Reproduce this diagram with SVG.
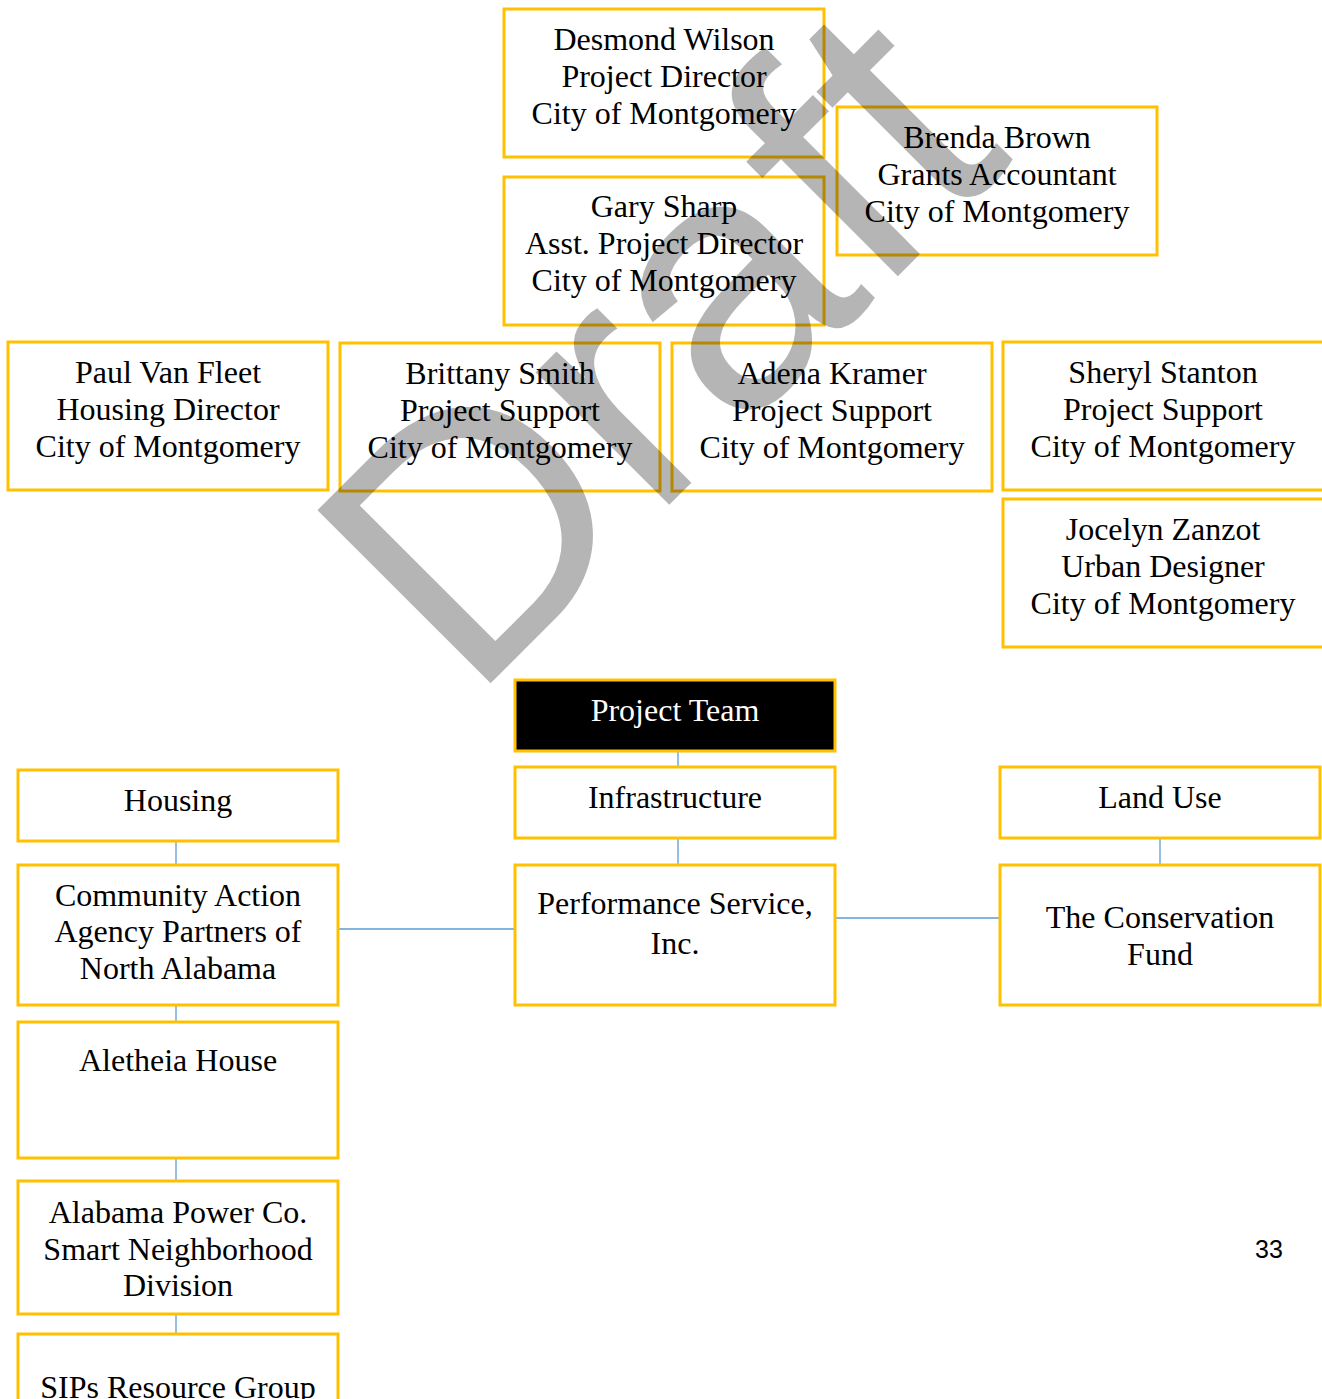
<svg xmlns="http://www.w3.org/2000/svg" width="1322" height="1399" viewBox="0 0 1322 1399">
<style>
.box{fill:#fff;stroke:#FFC000;stroke-width:3}
.dark{fill:#000;stroke:#FFC000;stroke-width:3}
.t{font-family:"Liberation Serif","Times New Roman",serif;font-size:32px;fill:#000;text-anchor:middle}
.w{fill:#fff}
.c{stroke:#5B9BD5;stroke-width:1.3;fill:none}
.wm{font-family:"Liberation Sans",Arial,sans-serif;font-size:356px;fill:#000;fill-opacity:0.29}
.pg{font-family:"Liberation Sans",Arial,sans-serif;font-size:25px;fill:#000}
</style>
<rect width="1322" height="1399" fill="#fff"/>
<g id="connectors">
<line class="c" x1="678" y1="751" x2="678" y2="767"/>
<line class="c" x1="678" y1="838" x2="678" y2="865"/>
<line class="c" x1="176" y1="841" x2="176" y2="865"/>
<line class="c" x1="176" y1="1005" x2="176" y2="1022"/>
<line class="c" x1="176" y1="1158" x2="176" y2="1181"/>
<line class="c" x1="176" y1="1314" x2="176" y2="1334"/>
<line class="c" x1="1160" y1="838" x2="1160" y2="865"/>
<line class="c" x1="338" y1="929" x2="515" y2="929"/>
<line class="c" x1="835" y1="918" x2="1000" y2="918"/>
</g>
<g id="desmond"><rect class="box" x="504" y="9" width="320" height="148"/>
<text class="t"><tspan x="664" y="50">Desmond Wilson</tspan><tspan x="664" y="87">Project Director</tspan><tspan x="664" y="124">City of Montgomery</tspan></text></g>
<g id="brenda"><rect class="box" x="837" y="107" width="320" height="148"/>
<text class="t"><tspan x="997" y="148">Brenda Brown</tspan><tspan x="997" y="185">Grants Accountant</tspan><tspan x="997" y="222">City of Montgomery</tspan></text></g>
<g id="gary"><rect class="box" x="504" y="177" width="320" height="148"/>
<text class="t"><tspan x="664" y="217">Gary Sharp</tspan><tspan x="664" y="254">Asst. Project Director</tspan><tspan x="664" y="291">City of Montgomery</tspan></text></g>
<g id="paul"><rect class="box" x="8" y="342" width="320" height="148"/>
<text class="t"><tspan x="168" y="383">Paul Van Fleet</tspan><tspan x="168" y="420">Housing Director</tspan><tspan x="168" y="457">City of Montgomery</tspan></text></g>
<g id="brittany"><rect class="box" x="340" y="343" width="320" height="148"/>
<text class="t"><tspan x="500" y="384">Brittany Smith</tspan><tspan x="500" y="421">Project Support</tspan><tspan x="500" y="458">City of Montgomery</tspan></text></g>
<g id="adena"><rect class="box" x="672" y="343" width="320" height="148"/>
<text class="t"><tspan x="832" y="384">Adena Kramer</tspan><tspan x="832" y="421">Project Support</tspan><tspan x="832" y="458">City of Montgomery</tspan></text></g>
<g id="sheryl"><rect class="box" x="1003" y="342" width="322" height="148"/>
<text class="t"><tspan x="1163" y="383">Sheryl Stanton</tspan><tspan x="1163" y="420">Project Support</tspan><tspan x="1163" y="457">City of Montgomery</tspan></text></g>
<g id="jocelyn"><rect class="box" x="1003" y="499" width="322" height="148"/>
<text class="t"><tspan x="1163" y="540">Jocelyn Zanzot</tspan><tspan x="1163" y="577">Urban Designer</tspan><tspan x="1163" y="614">City of Montgomery</tspan></text></g>
<g id="project-team"><rect class="dark" x="515" y="680" width="320" height="71"/>
<text class="t w" x="675" y="721">Project Team</text></g>
<g id="infrastructure"><rect class="box" x="515" y="767" width="320" height="71"/>
<text class="t" x="675" y="808">Infrastructure</text></g>
<g id="housing"><rect class="box" x="18" y="770" width="320" height="71"/>
<text class="t" x="178" y="811">Housing</text></g>
<g id="land-use"><rect class="box" x="1000" y="767" width="320" height="71"/>
<text class="t" x="1160" y="808">Land Use</text></g>
<g id="community"><rect class="box" x="18" y="865" width="320" height="140"/>
<text class="t"><tspan x="178" y="906">Community Action</tspan><tspan x="178" y="942">Agency Partners of</tspan><tspan x="178" y="979">North Alabama</tspan></text></g>
<g id="performance"><rect class="box" x="515" y="865" width="320" height="140"/>
<text class="t"><tspan x="675" y="914">Performance Service,</tspan><tspan x="675" y="954">Inc.</tspan></text></g>
<g id="conservation"><rect class="box" x="1000" y="865" width="320" height="140"/>
<text class="t"><tspan x="1160" y="928">The Conservation</tspan><tspan x="1160" y="965">Fund</tspan></text></g>
<g id="aletheia"><rect class="box" x="18" y="1022" width="320" height="136"/>
<text class="t" x="178" y="1071">Aletheia House</text></g>
<g id="alabama-power"><rect class="box" x="18" y="1181" width="320" height="133"/>
<text class="t"><tspan x="178" y="1223">Alabama Power Co.</tspan><tspan x="178" y="1260">Smart Neighborhood</tspan><tspan x="178" y="1296">Division</tspan></text></g>
<g id="sips"><rect class="box" x="18" y="1334" width="320" height="80"/>
<text class="t" x="178" y="1398">SIPs Resource Group</text></g>
<text class="pg" x="1255" y="1258">33</text>
<text class="wm" transform="translate(470,704) rotate(-45)">Draft</text>
</svg>
